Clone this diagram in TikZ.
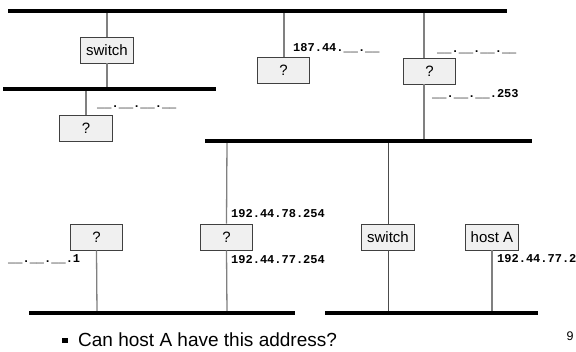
\documentclass[tikz,border=0pt]{standalone}
\usepackage{fontspec}
\setmainfont{Liberation Sans}
\newfontfamily\monof{Liberation Mono}
\definecolor{boxfill}{HTML}{F0F0F0}
\definecolor{boxline}{HTML}{404040}
\definecolor{dropgray}{HTML}{808080}
\begin{document}
\begin{tikzpicture}[x=1pt,y=-1pt,
  bus/.style={line width=3.4pt,black},
  drop/.style={line width=1.3pt,dropgray},
  darkdrop/.style={line width=0.9pt,black!70},
  dev/.style={draw=boxline,fill=boxfill,line width=0.9pt,minimum width=52.5pt,minimum height=26pt,inner sep=0pt,font=\fontsize{15}{18}\selectfont},
  addr/.style={anchor=base west,inner sep=0pt,font=\monof\bfseries\fontsize{12}{14}\selectfont}]
\useasboundingbox (0,0) rectangle (576,351);
% bus end points
\coordinate (tbA) at (8,11);   \coordinate (tbB) at (507,11);
\coordinate (b2A) at (3,89);   \coordinate (b2B) at (216,89);
\coordinate (mbA) at (205,141);\coordinate (mbB) at (532,141);
\coordinate (blA) at (29,313); \coordinate (blB) at (295,313);
\coordinate (brA) at (325,313);\coordinate (brB) at (538,313);
% taps
\coordinate (t1) at (107,11);  \coordinate (b21) at (107,89);
\coordinate (b22) at (86,89);
\coordinate (t2) at (284,11);
\coordinate (t3) at (424,11);  \coordinate (m3) at (424,141);
\coordinate (m4) at (227,141); \coordinate (l4) at (227,313);
\coordinate (l5) at (97,313);
\coordinate (m6) at (388,141); \coordinate (r6) at (388,313);
\coordinate (r7) at (492,313);
% devices
\node[dev] (sw1) at (107,50) {switch};
\node[dev] (q1) at (86,128) {?};
\node[dev] (q2) at (283.5,70.5) {?};
\node[dev] (q3) at (429.5,71) {?};
\node[dev] (rL) at (96.5,237) {?};
\node[dev] (rM) at (226.5,237) {?};
\node[dev] (swR) at (388,237) {switch};
\node[dev] (hA) at (492,237) {host A};
% drops
\draw[drop] (t1) -- (sw1.north);
\draw[drop] (sw1.south) -- (b21);
\draw[drop] (b22) -- (q1.north);
\draw[drop] (t2) -- (t2 |- q2.north);
\draw[drop] (t3) -- (t3 |- q3.north);
\draw[drop] (t3 |- q3.south) -- (m3);
\draw[drop] (m4) -- (rM.north);
\draw[drop] (rM.south) -- (l4);
\draw[drop] (rL.south) -- (l5);
\draw[darkdrop] (m6) -- (swR.north);
\draw[darkdrop] (swR.south) -- (r6);
\draw[drop] (hA.south) -- (r7);
% buses
\draw[bus] (tbA) -- (tbB);
\draw[bus] (b2A) -- (b2B);
\draw[bus] (mbA) -- (mbB);
\draw[bus] (blA) -- (blB);
\draw[bus] (brA) -- (brB);
% addresses
\node[addr] (a1) at (97,107.5) {\_\_.\_\_.\_\_.\_\_};
\node[addr] (a2) at (293,51) {187.44.\_\_.\_\_};
\node[addr] (a3) at (437,52) {\_\_.\_\_.\_\_.\_\_};
\node[addr] (a4) at (432,97) {\_\_.\_\_.\_\_.253};
\node[addr] (a5) at (231,217) {192.44.78.254};
\node[addr] (a6) at (231,263) {192.44.77.254};
\node[addr] (a7) at (8,262) {\_\_.\_\_.\_\_.1};
\node[addr] (a8) at (497,262) {192.44.77.2};
% bullet text
\node[fill=black,minimum size=5.5pt,inner sep=0pt] (bul) at (65,340.5) {};
\node[anchor=base west,inner sep=0pt,font=\fontsize{19}{22}\selectfont] (q) at (78,346.5) {Can host A have this address?};
\node[anchor=base,inner sep=0pt,font=\fontsize{12.5}{14}\selectfont] (pg) at (570,340.5) {9};
\end{tikzpicture}
\end{document}
